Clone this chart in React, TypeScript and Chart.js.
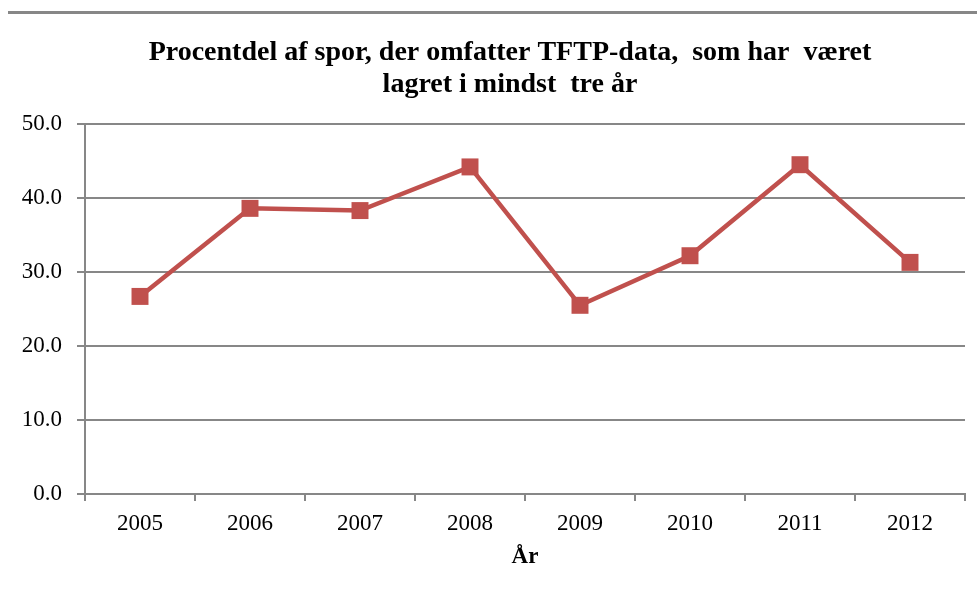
import React, { useEffect, useRef } from "react";
import { Chart, registerables } from "chart.js";

Chart.register(...registerables);

const years = ["2005", "2006", "2007", "2008", "2009", "2010", "2011", "2012"];
const shares = [26.7, 38.6, 38.3, 44.2, 25.5, 32.2, 44.5, 31.3];
const titleLines = [
  "Procentdel af spor, der omfatter TFTP-data,  som har  været",
  "lagret i mindst  tre år",
];
const xAxisTitle = "År";

const gray = "#878787";
const red = "#C0504D";
const serif = "'Liberation Serif', 'Times New Roman', serif";

const decor = {
  id: "decor",
  beforeDraw(chart: any) {
    const ctx = chart.ctx;
    ctx.save();
    ctx.fillStyle = gray;
    ctx.fillRect(8, 11, chart.width - 8, 3);
    ctx.restore();
  },
  afterDraw(chart: any) {
    const ctx = chart.ctx;
    ctx.save();
    ctx.fillStyle = "#000";
    ctx.font = `bold 28px ${serif}`;
    ctx.textAlign = "center";
    ctx.textBaseline = "alphabetic";
    const cx = 510;
    titleLines.forEach((line, i) => {
      ctx.fillText(line, cx, 60 + i * 32);
    });
    ctx.restore();
  },
};

export default function App() {
  const ref = useRef<HTMLCanvasElement | null>(null);
  useEffect(() => {
    if (!ref.current) return;
    const chart = new Chart(ref.current, {
      type: "line",
      data: {
        labels: years,
        datasets: [
          {
            data: shares,
            borderColor: red,
            backgroundColor: red,
            borderWidth: 4.5,
            pointStyle: "rect",
            pointRadius: 12,
            pointBorderWidth: 0,
            pointBackgroundColor: red,
            tension: 0,
          },
        ],
      },
      options: {
        responsive: false,
        animation: false,
        layout: { padding: { left: 0, right: 11, top: 124, bottom: 0 } },
        plugins: {
          legend: { display: false },
          tooltip: { enabled: false },
          title: { display: false },
        },
        scales: {
          x: {
            offset: true,
            afterFit: (s: any) => {
              s.height = 97;
            },
            grid: {
              offset: true,
              drawOnChartArea: false,
              drawTicks: true,
              tickLength: 7,
              color: gray,
              lineWidth: 2,
            },
            border: { display: true, color: gray, width: 2 },
            ticks: {
              color: "#000",
              font: { family: serif, size: 23 },
              padding: 9,
              maxRotation: 0,
            },
            title: {
              display: true,
              text: xAxisTitle,
              color: "#000",
              font: { family: serif, size: 23, weight: "bold" },
              padding: { top: 0, bottom: 20 },
            },
          },
          y: {
            min: 0,
            max: 50,
            afterFit: (s: any) => {
              s.width = 85;
            },
            grid: {
              color: gray,
              lineWidth: 2,
              drawTicks: true,
              tickLength: 8,
            },
            border: { display: true, color: gray, width: 2 },
            ticks: {
              stepSize: 10,
              color: "#000",
              font: { family: serif, size: 23 },
              padding: 15,
              callback: (v: any) => Number(v).toFixed(1),
            },
          },
        },
      },
      plugins: [decor],
    });
    return () => chart.destroy();
  }, []);
  return (
    <div style={{ position: "absolute", left: 0, top: 0, width: 977, height: 591, background: "#fff" }}>
      <canvas ref={ref} width={977} height={591} />
    </div>
  );
}
